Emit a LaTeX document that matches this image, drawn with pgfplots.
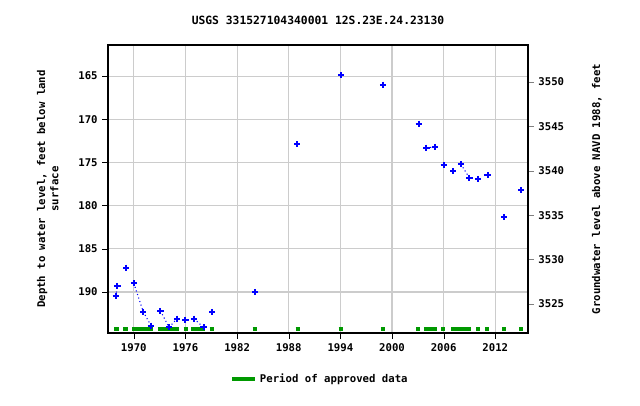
\documentclass[border=0pt]{standalone}
\usepackage{pgfplots}
\pgfplotsset{compat=1.18}
\usepackage{fontspec}
\setmainfont{DejaVu Sans Mono}
\begin{document}
\begin{tikzpicture}[x=1pt,y=1pt]
\useasboundingbox (-81,-54) rectangle (399,249.75);
\pgfplotsset{every axis/.append style={font=\fontsize{8}{10}\selectfont\bfseries, /pgf/number format/assume math mode=true, /pgf/number format/1000 sep={}, tick align=outside}}
\begin{axis}[at={(0,0)}, anchor=south west, scale only axis, width=315pt, height=216pt,
  xmin=1967.0, xmax=2015.8, ymin=161.4, ymax=194.75, y dir=reverse,
  xtick={1970,1976,...,2012}, ytick={165,170,...,190},
  grid=major, major grid style={gray!40, line width=0.8pt},
  axis line style={line width=0.8pt}, tick style={black},
  xtick pos=bottom, ytick pos=left,
  ylabel={Depth to water level, feet below land\\surface}, ylabel style={align=center, yshift=8pt},
  unbounded coords=jump,
  title={USGS 331527104340001 12S.23E.24.23130}, title style={yshift=6pt, font=\fontsize{8.5}{10}\selectfont\bfseries},
  legend style={at={(0.505,-0.16)}, anchor=center, draw=none, font=\fontsize{8}{10}\selectfont\bfseries},
  legend image post style={line width=3.5pt},
  ]
\addplot[color={rgb,255:red,0;green,153;blue,0}, line width=3.5pt, forget plot] coordinates {
(1967.7,194.3)(1968.3,194.3)(1968.3,nan)
(1968.8,194.3)(1969.3,194.3)(1969.3,nan)
(1969.8,194.3)(1972.2,194.3)(1972.2,nan)
(1972.8,194.3)(1975.2,194.3)(1975.2,nan)
(1975.8,194.3)(1976.3,194.3)(1976.3,nan)
(1976.7,194.3)(1978.3,194.3)(1978.3,nan)
(1978.8,194.3)(1979.3,194.3)(1979.3,nan)
(1983.8,194.3)(1984.3,194.3)(1984.3,nan)
(1988.8,194.3)(1989.3,194.3)(1989.3,nan)
(1993.8,194.3)(1994.3,194.3)(1994.3,nan)
(1998.7,194.3)(1999.2,194.3)(1999.2,nan)
(2002.8,194.3)(2003.3,194.3)(2003.3,nan)
(2003.7,194.3)(2005.2,194.3)(2005.2,nan)
(2005.7,194.3)(2006.2,194.3)(2006.2,nan)
(2006.9,194.3)(2009.2,194.3)(2009.2,nan)
(2009.8,194.3)(2010.2,194.3)(2010.2,nan)
(2010.8,194.3)(2011.3,194.3)(2011.3,nan)
(2012.8,194.3)(2013.3,194.3)(2013.3,nan)
(2014.8,194.3)(2015.2,194.3)
};
\addplot[blue, dotted, line width=0.8pt, forget plot] coordinates {
(1967.9,190.5)(1968.1,189.3)(1968.1,nan)
(1970.0,189.0)(1971.1,192.3)(1972.0,193.9)(1972.0,nan)
(1973.1,192.2)(1974.1,194.1)(1975.0,193.1)(1975.0,nan)
(1977.0,193.1)(1978.1,194.1)(1978.1,nan)
(2004.0,173.3)(2005.0,173.2)(2005.0,nan)
(2008.0,175.2)(2009.0,176.8)
};
\addplot[only marks, blue, mark=+, mark size=2.3pt, mark options={line width=1.5pt}, forget plot] coordinates {
(1967.9,190.5)(1968.1,189.3)(1969.1,187.2)(1970.0,189.0)(1971.1,192.3)(1972.0,193.9)
(1973.1,192.2)(1974.1,194.1)(1975.0,193.1)(1976.0,193.2)(1977.0,193.1)(1978.1,194.1)
(1979.1,192.3)(1984.1,190.0)(1989.0,172.9)(1994.1,164.9)(1998.95,166.0)
(2003.1,170.5)(2004.0,173.3)(2005.0,173.2)(2006.0,175.3)(2007.1,176.0)(2008.0,175.2)
(2009.0,176.8)(2010.0,176.9)(2011.1,176.5)(2013.0,181.3)(2015.0,178.2)
};
\addlegendimage{color={rgb,255:red,0;green,153;blue,0}, line width=3.5pt}
\addlegendentry{Period of approved data}
\end{axis}
\begin{axis}[at={(0,0)}, anchor=south west, scale only axis, width=315pt, height=216pt,
  xmin=1967.0, xmax=2015.8, ymin=3521.73, ymax=3554.17,
  axis x line=none, axis y line*=right, ytick={3525,3530,...,3550},
  ylabel={Groundwater level above NAVD 1988, feet}, ylabel style={yshift=-14pt}, axis line style={line width=0.8pt}]
\end{axis}
\end{tikzpicture}
\end{document}
